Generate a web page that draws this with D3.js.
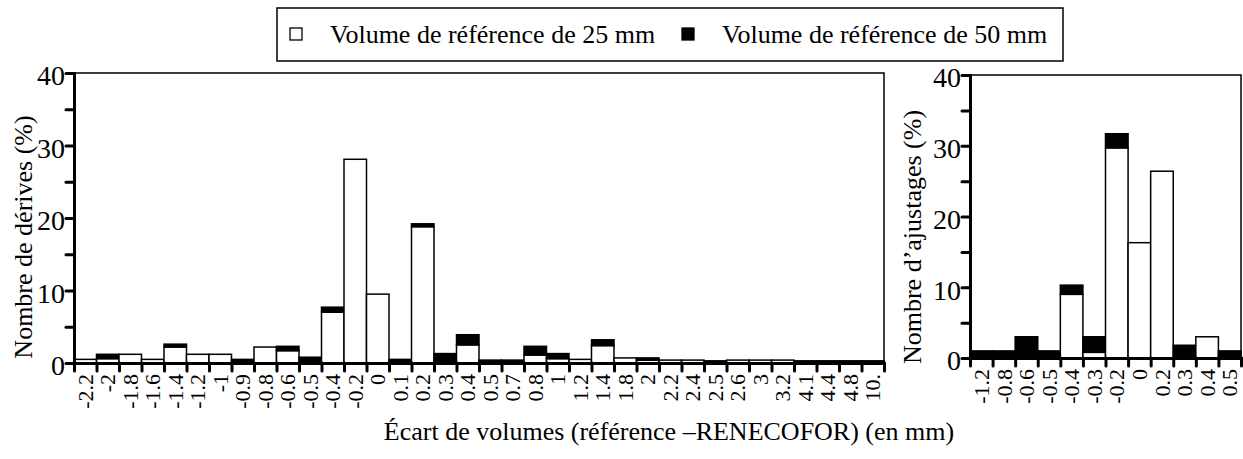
<!DOCTYPE html>
<html>
<head>
<meta charset="utf-8">
<script src="https://cdn.jsdelivr.net/npm/d3@7"></script>
<style>
  body { margin: 0; background: #fff; }
  svg text { font-family: 'Liberation Serif', 'Times New Roman', Times, Tinos, 'Nimbus Roman', 'DejaVu Serif', serif !important; fill: #000; }
</style>
</head>
<body>
<div id="graph"></div>
<script>
var W = 1243, H = 459;

// left panel: dérives
var leftCats = ["-2.2","-2","-1.8","-1.6","-1.4","-1.2","-1","-0.9","-0.8","-0.6","-0.5","-0.4","-0.2","0","0.1","0.2","0.3","0.4","0.5","0.7","0.8","1","1.2","1.4","1.8","2","2.2","2.4","2.5","2.6","3","3.2","4.1","4.4","4.8","10."];
var left25 = [0.5,0.6,1.2,0.5,2.2,1.2,1.2,0,2.2,1.7,0,7.0,28.1,9.5,0,18.8,0,2.5,0,0,1.1,0.6,0.5,2.4,0.7,0.4,0.4,0.4,0,0.4,0.4,0.4,0,0,0,0];
var left50 = [0,0.6,0,0,0.4,0,0,0.5,0,0.6,0.8,0.7,0,0,0.5,0.4,1.3,1.4,0.4,0.4,1.2,0.7,0,0.8,0,0.3,0,0,0.3,0,0,0,0.3,0.3,0.3,0.3];

// right panel: ajustages
var rightCats = ["-1.2","-0.8","-0.6","-0.5","-0.4","-0.3","-0.2","0","0.2","0.3","0.4","0.5"];
var right25 = [0,0,0,0,9.0,0.8,29.7,16.3,26.4,0,3.0,0];
var right50 = [1.0,1.0,3.0,1.0,1.3,2.2,2.0,0,0,1.8,0,1.0];

var yTicks = [0,5,10,15,20,25,30,35,40];
var legendLabels = ["Volume de référence de 25 mm","Volume de référence de 50 mm"];

var svg = d3.select('#graph').append('svg')
  .attr('width', W)
  .attr('height', H);

function panel(cats, v25, v50, box, ylabel) {
  var n = cats.length;
  var x = d3.scaleBand().domain(cats).range([box.x0, box.x1]);
  var xb = d3.scaleLinear().domain([0, n]).range([box.x0, box.x1]); // bar boundaries
  var y = d3.scaleLinear().domain([0, 40]).range([box.yb, box.yt]);

  var g = svg.append('g');

  // frame (top/right thin)
  g.append('rect')
    .attr('x', box.x0).attr('y', box.yt)
    .attr('width', box.x1 - box.x0).attr('height', box.yb - box.yt)
    .attr('fill', 'none').attr('stroke', '#000').attr('stroke-width', 1.5);

  var rows = cats.map(function(c, i){ return {c: c, a: v25[i], b: v50[i]}; });

  var bar = g.selectAll('g.bar').data(rows).enter().append('g').attr('class', 'bar');
  bar.append('rect')
    .attr('x', function(d){ return x(d.c); })
    .attr('width', x.bandwidth())
    .attr('y', function(d){ return y(d.a); })
    .attr('height', function(d){ return y(0) - y(d.a); })
    .attr('fill', '#fff').attr('stroke', '#000').attr('stroke-width', 1.5)
    .style('display', function(d){ return d.a > 0 ? null : 'none'; });
  bar.append('rect')
    .attr('x', function(d){ return x(d.c); })
    .attr('width', x.bandwidth())
    .attr('y', function(d){ return y(d.a + d.b); })
    .attr('height', function(d){ return y(d.a) - y(d.a + d.b); })
    .attr('fill', '#000').attr('stroke', '#000').attr('stroke-width', 1.5)
    .style('display', function(d){ return d.b > 0 ? null : 'none'; });

  // y axis
  var ya = g.append('g')
    .attr('transform', 'translate(' + box.x0 + ',0)')
    .call(d3.axisLeft(y).tickValues(yTicks).tickSize(8).tickPadding(1)
      .tickFormat(function(d){ return d % 10 === 0 ? d : ''; }));
  ya.attr('font-family', null);
  ya.select('.domain').attr('stroke-width', 3);
  ya.selectAll('.tick line').attr('stroke-width', 3).attr('stroke-linecap', 'round');
  ya.selectAll('text').style('font-size', '28px').attr('dy', '0.42em');

  // x ticks at bar boundaries
  var xt = g.append('g')
    .attr('transform', 'translate(0,' + box.yb + ')')
    .call(d3.axisBottom(xb).tickValues(d3.range(n + 1)).tickSize(8).tickFormat(''));
  xt.select('.domain').attr('stroke-width', 3);
  xt.selectAll('.tick line').attr('stroke-width', 3).attr('stroke-linecap', 'round');

  // x labels at bar centres
  var xl = g.append('g')
    .attr('transform', 'translate(0,' + (box.yb + 11) + ')')
    .call(d3.axisBottom(x).tickSize(0).tickPadding(0));
  xl.attr('font-family', null);
  xl.select('.domain').remove();
  xl.selectAll('text')
    .style('font-size', '22px')
    .attr('text-anchor', 'end')
    .attr('transform', 'rotate(-90)')
    .attr('x', 0).attr('y', 0).attr('dy', '0.35em');

  // y label
  g.append('text')
    .attr('transform', 'translate(' + box.lx + ',' + box.ly + ') rotate(-90)')
    .attr('text-anchor', 'middle')
    .attr('dy', '0.35em')
    .style('font-size', '26px')
    .text(ylabel);
}

panel(leftCats, left25, left50, {x0: 74, x1: 884, yt: 73, yb: 363, lx: 23, ly: 237}, 'Nombre de dérives (%)');
panel(rightCats, right25, right50, {x0: 970, x1: 1241, yt: 75, yb: 358, lx: 912, ly: 237}, 'Nombre d\u2019ajustages (%)');

// legend
var lg = svg.append('g');
lg.append('rect').attr('x', 277).attr('y', 8).attr('width', 786).attr('height', 53)
  .attr('fill', '#fff').attr('stroke', '#000').attr('stroke-width', 1.5);
var lx = [290, 682];
legendLabels.forEach(function(t, i){
  lg.append('rect').attr('x', lx[i]).attr('y', 28).attr('width', 12).attr('height', 12)
    .attr('fill', i === 0 ? '#fff' : '#000').attr('stroke', '#000').attr('stroke-width', 1.3);
  lg.append('text').attr('x', lx[i] + 40).attr('y', 43)
    .style('font-size', '26px').text(t);
});

// x title
svg.append('text')
  .attr('x', 669).attr('y', 440)
  .attr('text-anchor', 'middle')
  .style('font-size', '26px')
  .text('Écart de volumes (référence \u2013RENECOFOR) (en mm)');
</script>
</body>
</html>
